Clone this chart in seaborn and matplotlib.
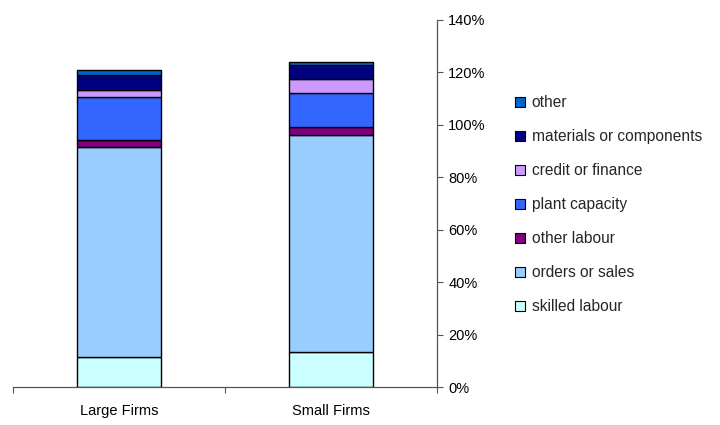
import matplotlib
matplotlib.use("Agg")
import matplotlib.pyplot as plt
from matplotlib.patches import Patch
from matplotlib.ticker import FixedLocator, PercentFormatter
import numpy as np
import seaborn as sns

# Firm size categories
firms = ["Large Firms", "Small Firms"]

# Constraint shares (percent), stacked bottom to top
skilled_labour = [11.3, 13.4]
orders_or_sales = [80.1, 82.8]
other_labour = [2.8, 2.8]
plant_capacity = [16.4, 13.1]
credit_or_finance = [2.7, 5.3]
materials_or_components = [5.8, 5.4]
other = [1.7, 1.0]

series = [
    ("skilled labour", skilled_labour, "#CCFFFF"),
    ("orders or sales", orders_or_sales, "#99CCFF"),
    ("other labour", other_labour, "#800080"),
    ("plant capacity", plant_capacity, "#3366FF"),
    ("credit or finance", credit_or_finance, "#CC99FF"),
    ("materials or components", materials_or_components, "#000080"),
    ("other", other, "#0066CC"),
]

sns.set_theme(style="white")
plt.rcParams["font.family"] = ["Liberation Sans", "DejaVu Sans"]

fig = plt.figure(figsize=(7.2, 4.25), dpi=100)
ax = fig.add_axes([0.018, 0.0894, 0.589, 0.864])

bottom = np.zeros(len(firms))
for name, vals, color in series:
    sns.barplot(x=firms, y=vals, bottom=bottom, color=color, width=0.4,
                edgecolor="black", linewidth=1.0, saturation=1, ax=ax)
    bottom = bottom + np.array(vals)

ax.set_xlim(-0.5, 1.5)
ax.set_ylim(0, 140)

# y axis on the right
ax.yaxis.tick_right()
ax.yaxis.set_label_position("right")
ax.yaxis.set_major_locator(FixedLocator(np.arange(0, 141, 20)))
ax.yaxis.set_major_formatter(PercentFormatter(decimals=0))
ax.tick_params(axis="y", which="major", right=True, left=False, length=4,
               width=0.8, color="#555555", labelsize=10.5, pad=4,
               labelcolor="black")

# category boundaries as ticks, names centred under bars
ax.xaxis.set_major_locator(FixedLocator([-0.5, 0.5, 1.5]))
ax.xaxis.set_major_formatter(plt.NullFormatter())
ax.xaxis.set_minor_locator(FixedLocator([0, 1]))
ax.xaxis.set_minor_formatter(plt.FixedFormatter(firms))
ax.tick_params(axis="x", which="major", bottom=True, length=4.5, width=0.8,
               color="#555555")
ax.tick_params(axis="x", which="minor", bottom=True, length=0,
               labelsize=10.5, pad=12, labelcolor="black")

for side in ["left", "top"]:
    ax.spines[side].set_visible(False)
for side in ["right", "bottom"]:
    ax.spines[side].set_color("#555555")
    ax.spines[side].set_linewidth(0.9)
ax.set_xlabel("")
ax.set_ylabel("")

handles = [Patch(facecolor=c, edgecolor="black", linewidth=0.8, label=n)
           for n, _, c in reversed(series)]
fig.legend(handles=handles, loc="upper left", bbox_to_anchor=(0.707, 0.79),
           frameon=False, fontsize=11.2, handlelength=0.65, handleheight=0.65,
           handletextpad=0.4, labelspacing=1.22, borderaxespad=0)

fig.savefig("out.png", dpi=100, facecolor="white")
